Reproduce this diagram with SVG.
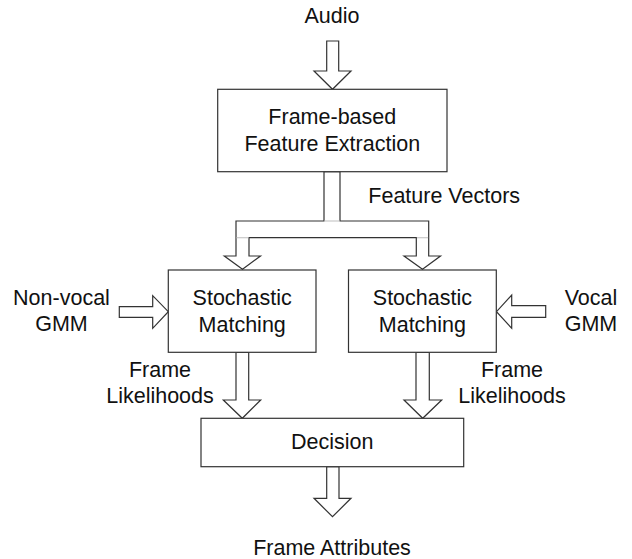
<svg xmlns="http://www.w3.org/2000/svg" width="632" height="559" viewBox="0 0 632 559">
<style>
  .box { fill: #ffffff; stroke: #333333; stroke-width: 1.2; }
  .arrow { fill: #ffffff; stroke: #333333; stroke-width: 1.2; stroke-linejoin: miter; }
  .gap { stroke: #c8c8c8; stroke-width: 1.2; }
  text { font-family: "Liberation Sans", Arial, sans-serif; font-size: 21.5px; fill: #111111; }
  .c { text-anchor: middle; }
</style>
<rect width="632" height="559" fill="#ffffff"/>
<g id="connectors">
  <polygon class="arrow" points="326.7,41 338.7,41 338.7,71 351,71 332.5,89.3 314,71 326.7,71"/>
  <polygon class="arrow" points="324,171.7 324,221 236,221 236,256 224.3,256 242.5,269.3 260.5,256 249,256 249,237.7 416.3,237.7 416.3,256 404,256 422.5,269.3 440.5,256 428.7,256 428.7,221 340,221 340,171.7"/>
  <line class="gap" x1="324.6" y1="221" x2="339.4" y2="221"/>
  <line class="gap" x1="236.6" y1="237.7" x2="248.4" y2="237.7"/>
  <line class="gap" x1="416.9" y1="237.7" x2="428.1" y2="237.7"/>
  <polygon class="arrow" points="119.3,306.7 152.7,306.7 152.7,295.7 168.3,311.7 152.7,328.3 152.7,317.3 119.3,317.3"/>
  <polygon class="arrow" points="545.7,305.7 511.7,305.7 511.7,295 496.5,311.7 511.7,328.3 511.7,317.3 545.7,317.3"/>
  <polygon class="arrow" points="236,352.3 248.7,352.3 248.7,400 260.7,400 242.3,418.3 223.3,400 236,400"/>
  <polygon class="arrow" points="416,352.3 429.3,352.3 429.3,400 441.7,400 422.7,418.3 404,400 416,400"/>
  <polygon class="arrow" points="326.7,466.7 339,466.7 339,498.3 351,498.3 332.5,516.7 314,498.3 326.7,498.3"/>
</g>
<g id="node-extraction">
  <rect class="box" x="217.7" y="89.3" width="229.3" height="82.4"/>
  <text class="c" x="332.3" y="123.5">Frame-based</text>
  <text class="c" x="332.3" y="150.7">Feature Extraction</text>
</g>
<g id="node-matching-left">
  <rect class="box" x="168.3" y="270" width="147.7" height="82.3"/>
  <text class="c" x="242.2" y="305">Stochastic</text>
  <text class="c" x="242.2" y="331.5">Matching</text>
</g>
<g id="node-matching-right">
  <rect class="box" x="348.5" y="270" width="147.8" height="82.3"/>
  <text class="c" x="422.4" y="305">Stochastic</text>
  <text class="c" x="422.4" y="331.5">Matching</text>
</g>
<g id="node-decision">
  <rect class="box" x="201" y="418.3" width="262.7" height="48.4"/>
  <text class="c" x="332.3" y="449">Decision</text>
</g>
<g id="labels">
  <text class="c" x="332" y="22.7">Audio</text>
  <text x="368.3" y="203.3">Feature Vectors</text>
  <text class="c" x="61.5" y="305">Non-vocal</text>
  <text class="c" x="61.5" y="330.5">GMM</text>
  <text class="c" x="591" y="305">Vocal</text>
  <text class="c" x="591" y="330.5">GMM</text>
  <text class="c" x="160" y="376.7">Frame</text>
  <text class="c" x="160" y="403.3">Likelihoods</text>
  <text class="c" x="512" y="376.7">Frame</text>
  <text class="c" x="512" y="403.3">Likelihoods</text>
  <text class="c" x="332" y="555">Frame Attributes</text>
</g>
</svg>
